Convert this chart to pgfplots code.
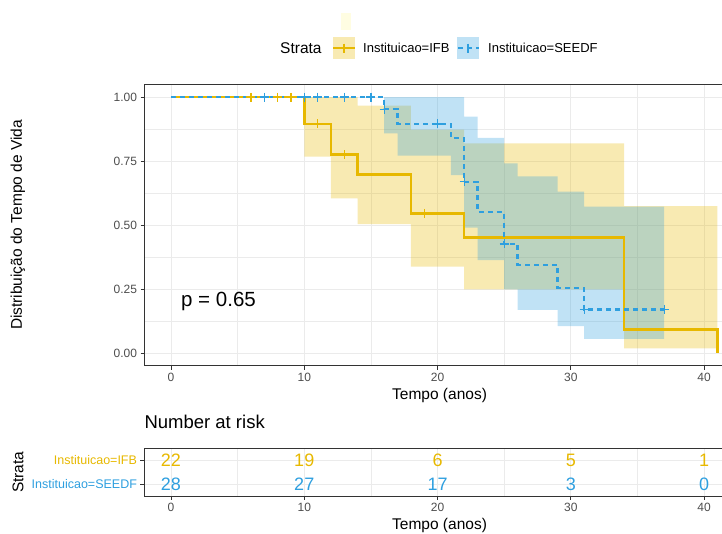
\documentclass[border=0pt]{standalone}
\usepackage{fontspec}
\setmainfont{Liberation Sans}
\usepackage{pgfplots}
\pgfplotsset{compat=1.18}
\usepgfplotslibrary{fillbetween}

\definecolor{ifb}{HTML}{E7B800}
\definecolor{seedf}{HTML}{2E9FDF}
\definecolor{frame}{HTML}{333333}
\definecolor{gridc}{HTML}{EBEBEB}
\definecolor{ticklab}{HTML}{4D4D4D}
\definecolor{paleyel}{HTML}{FFFDE2}

\pgfplotsset{
  kmbase/.style={
    scale only axis, width=590.5pt,
    xmin=-2, xmax=42.3,
    xtick={0,10,20,30,40}, minor xtick={5,15,25,35},
    grid=both,
    major grid style={gridc, line width=0.9pt},
    minor grid style={gridc, line width=0.45pt},
    axis line style={frame, line width=0.8pt},
    tick align=outside, tick pos=left,
    major tick length=3.8pt, minor tick length=0pt,
    tick style={frame, line width=0.8pt},
    ticklabel style={font=\fontsize{12}{14}\selectfont, text=ticklab},
    /pgf/number format/assume math mode=true,
    label style={font=\fontsize{15.5}{18}\selectfont},
    xlabel={Tempo (anos)},
    ylabel style={at={(axis description cs:-0.2139,0.5)}, anchor=center},
  },
  cens/.style={only marks, mark=+, mark size=4.5pt, mark options={#1, line width=1.3pt, solid}},
}

\begin{document}
\begin{tikzpicture}

% survival curves
\begin{axis}[kmbase,
  at={(144.3pt,-365.8pt)}, anchor=south west,
  height=281.6pt,
  ymin=-0.05, ymax=1.05,
  ytick={0,0.25,0.5,0.75,1},
  yticklabels={0.00,0.25,0.50,0.75,1.00},
  minor ytick={0.125,0.375,0.625,0.875},
  ylabel={Distribuição do Tempo de Vida},
]
% confidence bands
\addplot[name path=ifbU, const plot, draw=none, mark=none, forget plot] coordinates {
  (10,1) (12,1) (14,0.966) (18,0.873) (22,0.819) (34,0.574) (41,0.574)};
\addplot[name path=ifbL, const plot, draw=none, mark=none, forget plot] coordinates {
  (10,0.767) (12,0.604) (14,0.503) (18,0.337) (22,0.249) (34,0.018) (41,0.018)};
\addplot[fill=ifb, fill opacity=0.3, draw=none, mark=none] fill between[of=ifbU and ifbL];

\addplot[name path=seU, const plot, draw=none, mark=none, forget plot] coordinates {
  (16,1) (17,1) (21,1) (22,0.923) (23,0.840) (25,0.741) (26,0.690) (29,0.630) (31,0.572) (37,0.572)};
\addplot[name path=seL, const plot, draw=none, mark=none, forget plot] coordinates {
  (16,0.858) (17,0.771) (21,0.695) (22,0.490) (23,0.363) (25,0.249) (26,0.168) (29,0.105) (31,0.055) (37,0.055)};
\addplot[fill=seedf, fill opacity=0.3, draw=none, mark=none] fill between[of=seU and seL];

% KM steps
\addplot[ifb, line width=2.5pt, const plot, mark=none] coordinates {
  (0,1) (10,0.895) (12,0.775) (14,0.697) (18,0.545) (22,0.452) (34,0.091) (41,0)};
\addplot[seedf, line width=2.3pt, dash pattern=on 5pt off 4pt, const plot, mark=none] coordinates {
  (0,1) (16,0.952) (17,0.895) (21,0.839) (22,0.669) (23,0.55) (25,0.426) (26,0.344) (29,0.255) (31,0.17) (37,0.17)};

% censoring
\addplot[cens=ifb] coordinates {(6,1) (8,1) (9,1) (11,0.895) (13,0.775) (19,0.545)};
\addplot[cens=seedf] coordinates {(7,1) (10,1) (11,1) (13,1) (15,1) (16,0.952) (20,0.895) (22,0.669) (25,0.426) (31,0.17) (37,0.17)};

\node[anchor=west, inner sep=0pt, font=\fontsize{20.5}{24}\selectfont] at (axis cs:0.75,0.2) {p = 0.65};
\end{axis}

% risk table
\begin{axis}[kmbase,
  at={(144.3pt,-496pt)}, anchor=south west,
  height=47.7pt,
  ymin=0.5, ymax=2.5,
  ytick={1,2},
  yticklabels={{\textcolor{seedf}{Instituicao=SEEDF}},{\textcolor{ifb}{Instituicao=IFB}}},
  yticklabel style={font=\fontsize{12.5}{14}\selectfont},
  ylabel={Strata},
  title={Number at risk},
  title style={at={(axis description cs:0,1)}, anchor=base west, inner sep=0pt, yshift=13.5pt, font=\fontsize{18.5}{22}\selectfont},
]
\addplot[draw=none, mark=none, nodes near coords, point meta=explicit symbolic,
  nodes near coords style={anchor=center, text=ifb, font=\fontsize{18}{20}\selectfont}] coordinates {
  (0,2)[22] (10,2)[19] (20,2)[6] (30,2)[5] (40,2)[1]};
\addplot[draw=none, mark=none, nodes near coords, point meta=explicit symbolic,
  nodes near coords style={anchor=center, text=seedf, font=\fontsize{18}{20}\selectfont}] coordinates {
  (0,1)[28] (10,1)[27] (20,1)[17] (30,1)[3] (40,1)[0]};
\end{axis}

% legend
\fill[paleyel] (341pt,-13pt) rectangle (351pt,-30pt);
\node[anchor=west, inner sep=0pt, font=\fontsize{15.5}{18}\selectfont] at (280pt,-48pt) {Strata};
\fill[ifb, opacity=0.3] (333pt,-37pt) rectangle (355pt,-59pt);
\draw[ifb, line width=2.5pt] (333pt,-48pt) -- (355pt,-48pt);
\draw[ifb, line width=1.3pt] (344pt,-43.5pt) -- (344pt,-52.5pt);
\node[anchor=west, inner sep=0pt, font=\fontsize{13}{15}\selectfont] at (363pt,-48pt) {Instituicao=IFB};
\fill[seedf, opacity=0.3] (457pt,-37pt) rectangle (479pt,-59pt);
\draw[seedf, line width=2.3pt, dash pattern=on 5pt off 4pt, dash phase=-1pt] (457pt,-48pt) -- (479pt,-48pt);
\draw[seedf, line width=1.3pt] (468pt,-43.5pt) -- (468pt,-52.5pt);
\node[anchor=west, inner sep=0pt, font=\fontsize{13}{15}\selectfont] at (488pt,-48pt) {Instituicao=SEEDF};

\pgfresetboundingbox
\path[use as bounding box] (0pt,0pt) rectangle (722pt,-533pt);
\end{tikzpicture}
\end{document}
